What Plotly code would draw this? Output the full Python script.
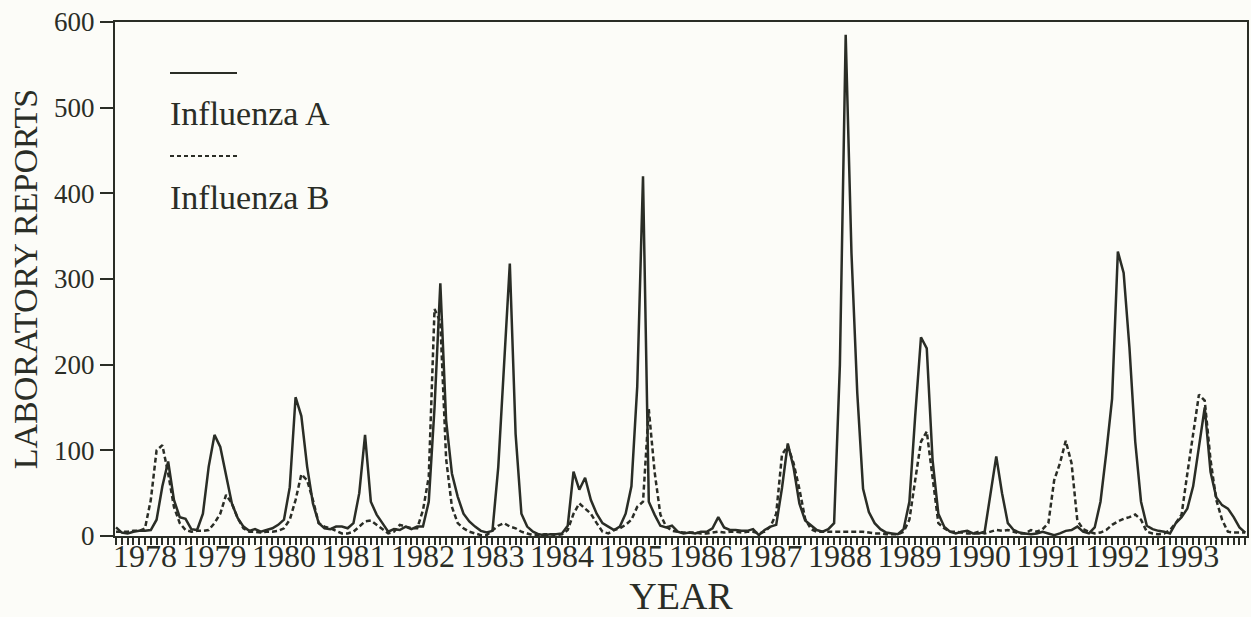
import plotly.graph_objects as go

# Monthly laboratory reports, month index 1 = Jan 1978
flu_a = [
    10, 4, 3, 5, 6, 6, 7, 19, 58, 87, 42, 22,          # 1-12
    20, 8, 7, 26, 81, 118, 104, 69, 38, 21, 11, 6,      # 13-24
    8, 5, 7, 9, 13, 19, 57, 162, 140, 81, 38, 15,       # 25-36
    9, 8, 11, 11, 9, 15, 50, 118, 40, 25, 15, 5,        # 37-48
    8, 7, 11, 8, 11, 11, 40, 150, 295, 135, 73, 46,     # 49-60
    26, 17, 11, 6, 4, 6, 80, 200, 318, 119, 26, 11,     # 61-72
    5, 2, 1, 2, 2, 3, 12, 75, 54, 68, 42, 26,           # 73-84
    15, 11, 7, 11, 26, 58, 174, 420, 40, 25, 12, 10,    # 85-96
    12, 5, 3, 4, 3, 5, 5, 9, 22, 10, 7, 7,              # 97-108
    6, 6, 8, 1, 7, 11, 13, 56, 108, 80, 38, 18,         # 109-120
    12, 7, 5, 8, 15, 200, 585, 330, 167, 55, 28, 15,    # 121-132
    8, 4, 3, 2, 8, 40, 140, 232, 219, 89, 26, 11,       # 133-144
    5, 3, 5, 6, 3, 3, 5, 50, 93, 50, 15, 7,             # 145-156
    4, 3, 2, 3, 5, 3, 1, 3, 6, 7, 11, 5,                # 157-168
    3, 10, 40, 97, 160, 332, 307, 220, 110, 40, 12, 8,  # 169-180
    6, 5, 3, 15, 22, 32, 58, 104, 150, 75, 45, 36,      # 181-192
    32, 22, 10, 4,                                      # 193-196
]
flu_b = [
    5, 5, 5, 6, 6, 9, 42, 100, 106, 73, 34, 15,
    7, 5, 6, 6, 7, 15, 26, 48, 38, 21, 9, 5,
    5, 4, 5, 5, 6, 9, 19, 42, 72, 65, 42, 15,
    11, 9, 6, 3, 3, 5, 11, 17, 18, 13, 7, 3,
    5, 13, 11, 9, 9, 30, 69, 265, 250, 90, 34, 15,
    9, 5, 3, 1, 1, 7, 12, 15, 11, 9, 5, 3,
    1, 1, 2, 2, 1, 2, 7, 26, 38, 32, 26, 15,
    5, 3, 7, 9, 13, 19, 34, 40, 148, 75, 25, 11,
    6, 5, 4, 4, 4, 3, 3, 4, 5, 4, 5, 5,
    4, 5, 5, 3, 5, 11, 26, 95, 105, 85, 55, 20,
    8, 5, 5, 5, 5, 5, 5, 5, 5, 5, 4, 3,
    3, 2, 2, 2, 5, 19, 65, 110, 122, 69, 15, 9,
    5, 5, 4, 3, 3, 5, 3, 5, 7, 6, 7, 5,
    3, 3, 7, 5, 8, 15, 65, 85, 111, 85, 18, 8,
    5, 3, 4, 7, 13, 17, 20, 22, 25, 19, 5, 3,
    2, 3, 7, 15, 25, 73, 120, 165, 158, 89, 42, 19,
    5, 4, 4, 4,
]
years = list(range(1978, 1994))
y_ticks = [0, 100, 200, 300, 400, 500, 600]

months = list(range(1, len(flu_a) + 1))
year_pos = [12 * (yr - 1978) + 6 for yr in years]

ink = "#2a2d26"
serif = "Liberation Serif, Times New Roman, serif"

fig = go.Figure()
fig.add_trace(go.Scatter(x=months, y=flu_b, mode="lines", name="Influenza B",
                         line=dict(color=ink, width=2.5, dash="5px,3px")))
fig.add_trace(go.Scatter(x=months, y=flu_a, mode="lines", name="Influenza A",
                         line=dict(color=ink, width=2.5)))

fig.update_layout(
    width=1251, height=617,
    margin=dict(l=115, r=4, t=22, b=81),
    paper_bgcolor="#fcfcf8", plot_bgcolor="#fcfcf8",
    showlegend=False,
    font=dict(family=serif, color=ink),
)
fig.update_xaxes(
    range=[0.82, 196.3], showgrid=False, zeroline=False, automargin=False,
    showline=True, linecolor=ink, linewidth=2, mirror=True,
    tickmode="array", tickvals=year_pos, ticktext=[str(y) for y in years],
    ticks="outside", ticklen=7, tickwidth=1.5, tickcolor=ink,
    ticklabelstandoff=-16,
    tickfont=dict(family=serif, size=32, color=ink),
    minor=dict(tickmode="linear", tick0=0, dtick=1, ticks="outside",
               ticklen=7, tickwidth=1.5, tickcolor=ink),
    title=dict(text="YEAR", font=dict(family=serif, size=38, color=ink), standoff=23),
)
fig.update_yaxes(
    range=[0, 600], showgrid=False, zeroline=False, automargin=False,
    showline=True, linecolor=ink, linewidth=2, mirror=True,
    tickmode="array", tickvals=y_ticks,
    ticks="outside", ticklen=13, tickwidth=1.5, tickcolor=ink,
    tickfont=dict(family=serif, size=27, color=ink),
    title=dict(text="LABORATORY REPORTS", font=dict(family=serif, size=34, color=ink), standoff=6),
)

# legend drawn as in the original: line sample above the label
fig.add_shape(type="line", xref="paper", yref="paper",
              x0=(170 - 115) / 1132, x1=(237 - 115) / 1132,
              y0=1 - (73 - 22) / 514, y1=1 - (73 - 22) / 514,
              line=dict(color=ink, width=2))
fig.add_shape(type="line", xref="paper", yref="paper",
              x0=(170 - 115) / 1132, x1=(237 - 115) / 1132,
              y0=1 - (156 - 22) / 514, y1=1 - (156 - 22) / 514,
              line=dict(color=ink, width=2, dash="4px,3px"))
fig.add_annotation(text="Influenza A", xref="paper", yref="paper",
                   x=(168 - 115) / 1132, y=1 - (113 - 22) / 514,
                   xanchor="left", yanchor="middle", showarrow=False,
                   font=dict(family=serif, size=34, color=ink))
fig.add_annotation(text="Influenza B", xref="paper", yref="paper",
                   x=(168 - 115) / 1132, y=1 - (197 - 22) / 514,
                   xanchor="left", yanchor="middle", showarrow=False,
                   font=dict(family=serif, size=34, color=ink))

fig.write_html("out.html")
